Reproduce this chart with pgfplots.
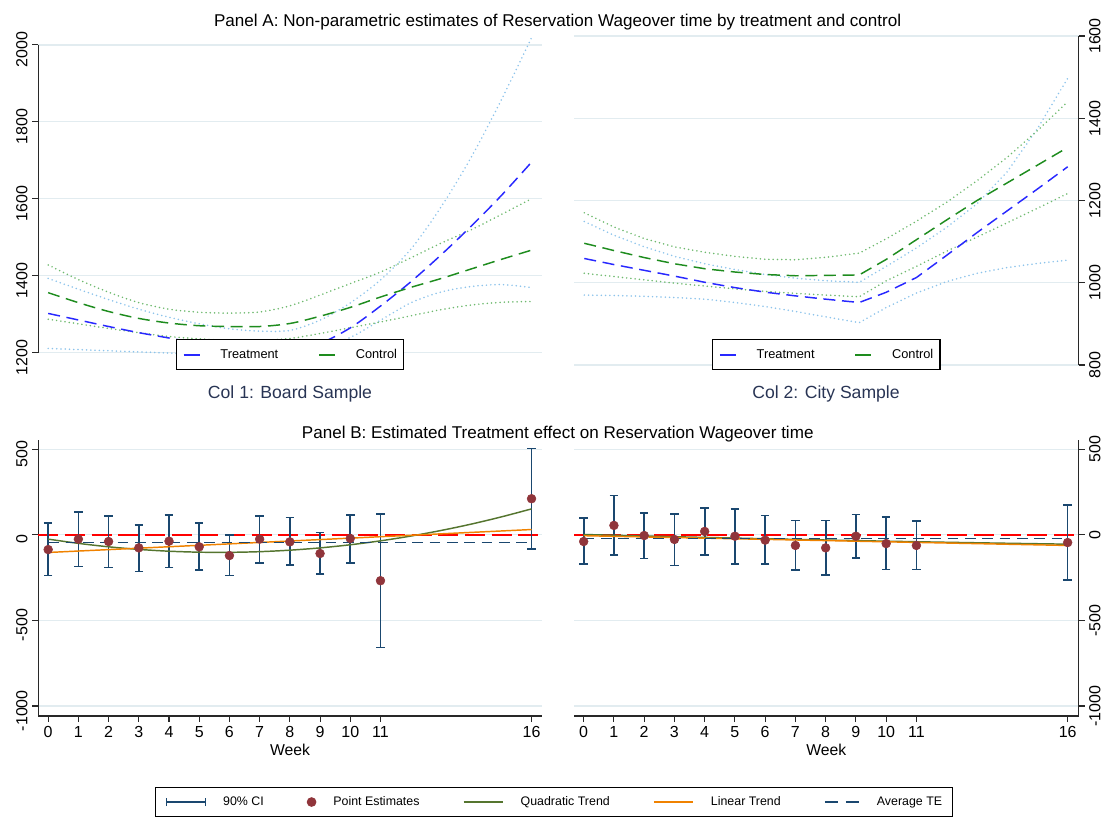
\documentclass[border=0pt]{standalone}
\usepackage{fontspec}
\setmainfont{Liberation Sans}
\usepackage{pgfplots}
\usepackage{pgfplotstable}
\pgfplotsset{compat=1.18}

\definecolor{gridc}{RGB}{226,236,240}
\definecolor{navyc}{RGB}{26,71,111}
\definecolor{maroonc}{RGB}{144,53,59}
\definecolor{forestc}{RGB}{85,117,47}
\definecolor{orangec}{RGB}{240,130,0}
\definecolor{treatc}{RGB}{40,40,255}
\definecolor{ctrlc}{RGB}{30,140,30}
\definecolor{treatci}{RGB}{140,195,235}
\definecolor{ctrlci}{RGB}{110,185,110}
\definecolor{subtc}{RGB}{40,52,84}
\definecolor{axc}{RGB}{40,40,40}

% Panel A, Col 1 (Board sample)
\pgfplotstableread{
week t tlo thi c clo chi
0 1302 1211 1393 1356 1287 1428
1 1285 1208 1365 1330 1275 1390
2 1268 1205 1338 1307 1263 1357
3 1252 1202 1313 1289 1252 1330
4 1238 1199 1292 1277 1242 1313
5 1224 1196 1275 1270 1236 1305
6 1214 1194 1262 1268 1232 1303
7 1210 1195 1256 1268 1232 1306
8 1212 1200 1258 1276 1237 1322
9 1225 1215 1285 1295 1250 1350
10 1265 1240 1330 1318 1265 1380
11 1322 1285 1390 1345 1280 1410
12 1385 1330 1470 1370 1296 1447
13 1455 1358 1580 1393 1312 1485
14 1530 1372 1710 1418 1324 1520
15 1610 1377 1860 1443 1331 1560
16 1697 1369 2022 1467 1333 1601
}\tableAL

% Panel A, Col 2 (City sample)
\pgfplotstableread{
week t tlo thi c clo chi
0 1059 970 1149 1096 1023 1170
1 1044 969 1115 1078 1015 1135
2 1030 967 1087 1061 1007 1107
3 1016 964 1064 1046 999 1087
4 1001 960 1046 1034 992 1074
5 988 952 1032 1026 985 1064
6 977 942 1020 1020 979 1057
7 968 930 1011 1017 974 1056
8 960 917 1005 1018 970 1062
9.1 952 903 1001 1019 966 1072
10 977 940 1040 1057 1005 1107
11 1013 975 1085 1105 1040 1150
12 1067 1003 1135 1153 1077 1196
13 1122 1023 1192 1200 1111 1248
14 1175 1037 1270 1243 1146 1305
15 1228 1047 1375 1286 1181 1370
16 1282 1055 1497 1329 1217 1440
}\tableAR

% Panel B, Col 1
\pgfplotstableread{
week est lo hi
0 -86 -238 70
1 -25 -184 135
2 -39 -191 111
3 -76 -213 59
4 -37 -191 117
5 -70 -207 70
6 -121 -238 0
7 -25 -164 111
8 -41 -176 102
9 -109 -227 14
10 -21 -164 117
11 -268 -658 123
16 211 -82 504
}\tableBL

% Panel B, Col 2
\pgfplotstableread{
week est lo hi
0 -39 -172 98
1 55 -119 230
2 -4 -139 129
3 -27 -178 123
4 20 -119 158
5 -8 -170 152
6 -31 -172 113
7 -62 -207 84
8 -76 -234 84
9 -8 -135 119
10 -51 -203 104
11 -62 -203 82
16 -45 -264 174
}\tableBR

\pgfplotsset{
  base/.style={
    scale only axis, clip=false,
    axis line style={line width=0.8pt, axc},
    tick style={line width=0.8pt, axc},
    tick align=outside, major tick length=4.5pt,
    ymajorgrids, grid style={gridc, line width=0.9pt},
    ticklabel style={font=\fontsize{12}{14}\selectfont},
    /pgf/number format/assume math mode=true,
  },
  lefty/.style={axis y line*=left, yticklabel style={rotate=90, anchor=south, xshift=-3.5pt}},
  righty/.style={axis y line*=right, yticklabel style={rotate=90, anchor=north}},
  dsh/.style={line width=1.1pt, dash pattern=on 9pt off 5pt},
  dts/.style={line width=1.3pt, line cap=round, dash pattern=on 0pt off 3.2pt},
  legA/.style={legend columns=2,
    legend image code/.code={\draw[##1, solid] (0pt,0pt) -- (12pt,0pt);},
    legend style={draw=black, line width=0.8pt, fill=white, font=\fontsize{9.6}{11}\selectfont,
      inner xsep=5pt, inner ysep=5pt,
      nodes={inner xsep=0pt, inner ysep=2pt, line width=0.8pt},
      /tikz/every odd column/.append style={column sep=15pt},
      /tikz/every even column/.append style={column sep=30pt}}},
  cibars/.style={navyc, line width=1.25pt, only marks, mark=none,
    /pgfplots/error bars/y dir=both, /pgfplots/error bars/y explicit,
    /pgfplots/error bars/error bar style={navyc, line width=1.25pt, solid},
    /pgfplots/error bars/error mark options={rotate=90, navyc, line width=1.2pt, mark size=3.2pt}},
}

\begin{document}
\begin{tikzpicture}
\useasboundingbox (0,0) rectangle (829.5pt,-618.75pt);

% ---------- Panel A, left
\begin{axis}[base, lefty, at={(28.65pt,-264.5pt)}, anchor=south west,
  width=377.7pt, height=230.8pt,
  xmin=-0.33, xmax=16.32, ymin=1200, ymax=2000,
  axis x line=none, xtick=\empty,
  ytick={1200,1400,1600,1800,2000}, yticklabels={1200,1400,1600,1800,2000},
  legA, legend style={at={(0.5,0.0435)}, anchor=north}]
\addplot[treatci, dts, smooth, forget plot] table[x=week, y=thi] {\tableAL};
\addplot[treatci, dts, smooth, forget plot] table[x=week, y=tlo] {\tableAL};
\addplot[ctrlci, dts, smooth, forget plot] table[x=week, y=chi] {\tableAL};
\addplot[ctrlci, dts, smooth, forget plot] table[x=week, y=clo] {\tableAL};
\addplot[treatc, dsh, smooth] table[x=week, y=t] {\tableAL};
\addplot[ctrlc, dsh, smooth] table[x=week, y=c] {\tableAL};
\legend{Treatment, Control}
\end{axis}

% ---------- Panel A, right
\begin{axis}[base, righty, at={(430.5pt,-273.75pt)}, anchor=south west,
  width=378.4pt, height=246.75pt,
  xmin=-0.34, xmax=16.36, ymin=800, ymax=1600,
  axis x line=none, xtick=\empty,
  ytick={800,1000,1200,1400,1600}, yticklabels={800,1000,1200,1400,1600},
  legA, legend style={at={(0.5,0.078)}, anchor=north}]
\addplot[treatci, dts, forget plot] table[x=week, y=thi] {\tableAR};
\addplot[treatci, dts, forget plot] table[x=week, y=tlo] {\tableAR};
\addplot[ctrlci, dts, forget plot] table[x=week, y=chi] {\tableAR};
\addplot[ctrlci, dts, forget plot] table[x=week, y=clo] {\tableAR};
\addplot[treatc, dsh] table[x=week, y=t] {\tableAR};
\addplot[ctrlc, dsh] table[x=week, y=c] {\tableAR};
\legend{Treatment, Control}
\end{axis}

% ---------- Panel B, left
\begin{axis}[base, lefty, at={(28.65pt,-537pt)}, anchor=south west,
  width=377.7pt, height=207pt,
  xmin=-0.33, xmax=16.34, ymin=-1058.4, ymax=554,
  axis x line*=bottom,
  xtick={0,1,2,3,4,5,6,7,8,9,10,11,16},
  ytick={-1000,-500,0,500}, yticklabels={-1000,-500,0,500},
  xlabel={Week}, xlabel style={font=\fontsize{11.8}{14}\selectfont, at={(axis description cs:0.5,0)}, anchor=base, yshift=-29.25pt},
  legend columns=5,
  legend style={at={(0.2323,-0.256)}, anchor=north west, draw=black, line width=0.8pt, fill=white,
    font=\fontsize{9.3}{11}\selectfont, inner xsep=7.5pt, inner ysep=5pt,
    nodes={inner xsep=0pt, inner ysep=2pt},
    /tikz/every odd column/.append style={column sep=12.75pt},
    /tikz/every even column/.append style={column sep=32.25pt}}]
\addplot[red, line width=1.1pt, dash pattern=on 15pt off 5pt, forget plot] coordinates {(-0.33,0) (16.34,0)};
\addplot[cibars,
  legend image code/.code={\draw[navyc, line width=1.05pt] (0pt,0pt) -- (29.25pt,0pt) (0pt,-3pt) -- (0pt,3pt) (29.25pt,-3pt) -- (29.25pt,3pt);}]
  table[x=week, y=est, y error plus expr=\thisrow{hi}-\thisrow{est}, y error minus expr=\thisrow{est}-\thisrow{lo}] {\tableBL};
\addplot[only marks, mark=*, mark size=3.3pt, maroonc, mark options={fill=maroonc, draw=maroonc},
  legend image code/.code={\fill[maroonc] (3.2pt,0pt) circle (3.2pt);}]
  table[x=week, y=est] {\tableBL};
\addplot[forestc, line width=1.1pt, smooth,
  legend image code/.code={\draw[forestc, line width=1.6pt] (0pt,0pt) -- (29.25pt,0pt);}]
  coordinates {(0,-25) (1,-49.8) (2,-69.9) (3,-85.1) (4,-95.6) (5,-101.3) (6,-102.2) (7,-98.3) (8,-89.6) (9,-76.2) (10,-58) (11,-35) (12,-7.2) (13,25.3) (14,62.6) (15,104.8) (16,151.6)};
\addplot[orangec, line width=1.1pt,
  legend image code/.code={\draw[orangec, line width=1.6pt] (0pt,0pt) -- (29.25pt,0pt);}]
  coordinates {(0,-103) (16,31)};
\addplot[navyc, line width=1.1pt, dash pattern=on 8pt off 5pt,
  legend image code/.code={\draw[navyc, line width=1.6pt, dash pattern=on 9.75pt off 6pt] (0pt,0pt) -- (25.5pt,0pt);}]
  coordinates {(0,-45) (16,-45)};
\legend{90\% CI, Point Estimates, Quadratic Trend, Linear Trend, Average TE}
\end{axis}

% ---------- Panel B, right
\begin{axis}[base, righty, at={(430.5pt,-537pt)}, anchor=south west,
  width=378.4pt, height=207pt,
  xmin=-0.32, xmax=16.36, ymin=-1058.4, ymax=554,
  axis x line*=bottom,
  xtick={0,1,2,3,4,5,6,7,8,9,10,11,16},
  ytick={-1000,-500,0,500}, yticklabels={-1000,-500,0,500},
  xlabel={Week}, xlabel style={font=\fontsize{11.8}{14}\selectfont, at={(axis description cs:0.5,0)}, anchor=base, yshift=-29.25pt}]
\addplot[red, line width=1.1pt, dash pattern=on 15pt off 5pt] coordinates {(-0.32,0) (16.36,0)};
\addplot[cibars]
  table[x=week, y=est, y error plus expr=\thisrow{hi}-\thisrow{est}, y error minus expr=\thisrow{est}-\thisrow{lo}] {\tableBR};
\addplot[only marks, mark=*, mark size=3.3pt, maroonc, mark options={fill=maroonc, draw=maroonc}]
  table[x=week, y=est] {\tableBR};
\addplot[forestc, line width=1.1pt, smooth]
  coordinates {(0,2) (2,-6.8) (4,-15) (6,-22.8) (8,-30.2) (10,-37) (12,-43.4) (14,-49.2) (16,-54.6)};
\addplot[orangec, line width=1.1pt] coordinates {(0,-5) (16,-62)};
\addplot[navyc, line width=1.1pt, dash pattern=on 8pt off 5pt] coordinates {(0,-21.5) (16,-21.5)};
\end{axis}

% ---------- titles
\node[anchor=base, font=\fontsize{12.8}{15}\selectfont] at (418.2pt,-20.1pt)
  {Panel A: Non-parametric estimates of Reservation Wageover time by treatment and control};
\node[anchor=base, font=\fontsize{13.2}{15}\selectfont, text=subtc] at (217.5pt,-298.5pt) {Col 1: Board Sample};
\node[anchor=base, font=\fontsize{13.2}{15}\selectfont, text=subtc] at (619.5pt,-298.5pt) {Col 2: City Sample};
\node[anchor=base, font=\fontsize{12.8}{15}\selectfont] at (418.3pt,-329.1pt)
  {Panel B: Estimated Treatment effect on Reservation Wageover time};
\end{tikzpicture}
\end{document}
